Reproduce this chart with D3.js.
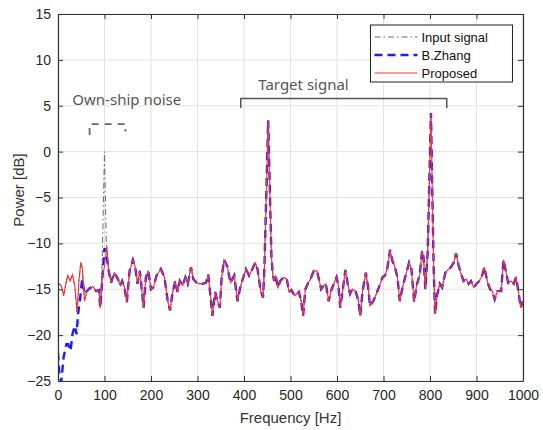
<!DOCTYPE html>
<html>
<head>
<meta charset="utf-8">
<script src="https://cdn.jsdelivr.net/npm/d3@7"></script>
<style>
	body { margin: 0; background: #fff; }
	text { font-family: 'Liberation Sans', Arial, sans-serif; }
	.tick text { fill: #262626; font-size: 14px; }
	.annot { font-family: 'Noto Sans', 'Open Sans', sans-serif; fill: #555; font-size: 15px; }
</style>
</head>
<body>
<svg id="chart0"></svg>
<script>
// frequency samples [Hz]
var freq = [0, 7, 12, 18, 21, 26, 31, 36, 41, 45, 49, 52, 57, 62, 68, 75, 82, 88, 91, 96,
	100, 105, 109, 114, 121, 129, 134, 138, 143, 148, 154, 161, 166, 171, 176, 184, 189, 194,
	200, 205, 212, 221, 229, 236, 241, 246, 252, 257, 262, 268, 274, 279, 286, 291, 298,
	304, 311, 318, 323, 329, 332, 338, 343, 348, 352, 357, 364, 371, 379, 386, 391, 396,
	404, 411, 418, 424, 429, 436, 441, 444, 452, 459, 462, 465, 468, 473, 478, 485, 492, 497,
	502, 509, 518, 523, 527, 532, 538, 543, 550, 557, 562, 566, 571, 576, 582, 587, 594, 599,
	603, 607, 612, 618, 623, 628, 633, 640, 646, 650, 655, 662, 667, 671, 678, 683, 690, 698,
	703, 708, 714, 719, 724, 730, 735, 740, 748, 755, 760, 766, 771, 778, 783, 786, 790, 795,
	802, 808, 811, 815, 821, 826, 833, 840, 845, 851, 856, 861, 866, 872, 878, 883, 888, 894,
	900, 906, 912, 917, 923, 929, 934, 939, 945, 953, 958, 963, 968, 974, 980, 985, 990, 995, 1000];

// proposed method [dB]
var proposed = [-14.3, -14.6, -15.7, -14.1, -13.5, -14.1, -13.4, -14.6, -17.5, -14.1, -12.1, -12.6, -16.3, -15.2, -14.9, -14.7, -15.2, -15.1, -17.0, -13.4,
	-12.5, -10.3, -13.0, -14.3, -13.2, -13.9, -14.6, -14.1, -14.8, -16.4, -13.0, -11.8, -12.6, -14.4, -13.0, -17.0, -13.7, -13.0,
	-15.0, -14.8, -13.5, -12.8, -13.7, -16.3, -17.3, -15.5, -14.1, -15.3, -14.1, -14.6, -13.7, -14.4, -12.6, -13.9, -14.3,
	-14.4, -14.4, -14.3, -13.4, -16.3, -17.9, -15.3, -16.3, -17.0, -13.7, -11.8, -12.5, -14.3, -13.5, -16.3, -15.0, -14.1,
	-12.8, -13.5, -12.8, -12.1, -12.8, -15.2, -15.9, -12.5, 3.4, -11.5, -13.4, -14.1, -13.5, -14.8, -14.1, -13.7, -13.9, -15.3,
	-15.1, -15.7, -15.3, -16.3, -17.9, -15.0, -14.3, -13.9, -13.0, -13.0, -14.1, -15.0, -14.6, -14.4, -16.3, -15.2, -14.3, -13.7,
	-14.6, -17.0, -15.2, -12.9, -14.4, -15.5, -15.0, -15.2, -16.3, -17.9, -15.2, -13.2, -14.8, -16.8, -16.3, -15.7, -14.8, -13.7,
	-13.5, -12.8, -10.7, -11.9, -12.5, -13.7, -16.3, -15.0, -13.4, -12.1, -12.8, -16.4, -14.6, -13.4, -10.8, -11.5, -15.0, -11.0,
	4.2, -13.0, -17.7, -15.7, -14.4, -14.8, -13.2, -12.8, -12.6, -12.1, -11.1, -12.3, -13.2, -14.1, -13.9, -14.4, -14.1, -14.8,
	-14.4, -14.1, -13.5, -12.6, -14.1, -15.0, -15.2, -16.1, -15.2, -15.2, -11.8, -13.0, -14.3, -14.1, -14.4, -13.7, -15.2, -17.0, -16.3];

// B.Zhang below 60 Hz (above that it lies on the proposed curve)
var zhang_freq = [0, 3, 7, 12, 18, 22, 27, 31, 36, 40, 43, 47, 52, 57, 62];
var zhang_low = [-21.9, -24.2, -25.1, -22.4, -21.0, -21.0, -21.7, -19.9, -19.0, -19.9, -17.7, -16.3, -13.9, -15.5, -15.2];
var zhang_peak100 = {100: -10.5, 105: -11.5};

// input signal around the own-ship line (elsewhere it lies on the proposed curve)
var input_freq = [91, 95, 100, 104, 109];
var input_peak = [-17.0, -12.0, 0.0, -10.3, -13.0];

var x_ticks = [0, 100, 200, 300, 400, 500, 600, 700, 800, 900, 1000];
var y_ticks = [-25, -20, -15, -10, -5, 0, 5, 10, 15];

var legend_labels = ['Input signal', 'B.Zhang', 'Proposed'];

function draw_chart() {

	var width = 543;
	var height = 430;
	var margin = {'top': 14, 'bottom': 49, 'left': 58, 'right': 20};
	var w = width - margin.left - margin.right;
	var h = height - margin.top - margin.bottom;

	var x_conv = d3.scaleLinear().domain([0, 1000]).range([0, w]);
	var y_conv = d3.scaleLinear().domain([-25, 15]).range([h, 0]);

	var svg = d3.select('#chart0')
		.attr('width', width)
		.attr('height', height);

	var chart = svg.append('g')
		.attr('transform', 'translate(' + margin.left + ',' + margin.top + ')');

	chart.append('clipPath').attr('id', 'clip')
		.append('rect').attr('width', w).attr('height', h);

	// grid
	chart.selectAll('line.gx')
		.data(x_ticks).enter()
		.append('line')
		.attr('x1', function(d) { return x_conv(d); })
		.attr('x2', function(d) { return x_conv(d); })
		.attr('y1', 0).attr('y2', h)
		.attr('stroke', '#e3e3e3');
	chart.selectAll('line.gy')
		.data(y_ticks).enter()
		.append('line')
		.attr('y1', function(d) { return y_conv(d); })
		.attr('y2', function(d) { return y_conv(d); })
		.attr('x1', 0).attr('x2', w)
		.attr('stroke', '#e3e3e3');

	// series
	var input_data = [];
	var zhang_data = [];
	var prop_data = [];
	for (var i = 0; i < freq.length; i++) {
		var f = freq[i];
		prop_data.push([f, proposed[i]]);
		if (f <= 88) {
			input_data.push([f, proposed[i]]);
		}
		if (f >= 114) {
			input_data.push([f, proposed[i]]);
		}
		if (f > 62) {
			zhang_data.push([f, zhang_peak100[f] !== undefined ? zhang_peak100[f] : proposed[i]]);
		}
		if (f == 91) {
			for (var k = 0; k < input_freq.length; k++) {
				input_data.push([input_freq[k], input_peak[k]]);
			}
		}
	}
	var zl = [];
	for (var j = 0; j < zhang_freq.length; j++) {
		zl.push([zhang_freq[j], zhang_low[j]]);
	}
	zhang_data = zl.concat(zhang_data);

	var line = d3.line()
		.x(function(d) { return x_conv(d[0]); })
		.y(function(d) { return y_conv(d[1]); });

	var plot = chart.append('g').attr('clip-path', 'url(#clip)');

	plot.append('path').datum(input_data)
		.attr('d', line)
		.attr('fill', 'none')
		.attr('stroke', '#6a6a6a')
		.attr('stroke-width', 1)
		.attr('stroke-dasharray', '6,3,1.5,3');

	plot.append('path').datum(zhang_data)
		.attr('d', line)
		.attr('fill', 'none')
		.attr('stroke', '#1a1aff')
		.attr('stroke-width', 2.4)
		.attr('stroke-dasharray', '8,5');

	plot.append('path').datum(prop_data)
		.attr('d', line)
		.attr('fill', 'none')
		.attr('stroke', '#ff3030')
		.attr('stroke-width', 1.1);

	// axes, MATLAB-style box with inner ticks
	var ax_b = chart.append('g')
		.attr('transform', 'translate(0,' + h + ')')
		.call(d3.axisBottom(x_conv).tickValues(x_ticks).tickFormat(d3.format('d'))
			.tickSizeInner(-5).tickSizeOuter(0).tickPadding(9));
	var ax_t = chart.append('g')
		.call(d3.axisTop(x_conv).tickValues(x_ticks).tickSizeInner(-5).tickSizeOuter(0).tickFormat(''));
	var ax_l = chart.append('g')
		.call(d3.axisLeft(y_conv).tickValues(y_ticks).tickSizeInner(-5).tickSizeOuter(0).tickPadding(7));
	var ax_r = chart.append('g')
		.attr('transform', 'translate(' + w + ',0)')
		.call(d3.axisRight(y_conv).tickValues(y_ticks).tickSizeInner(-5).tickSizeOuter(0).tickFormat(''));

	[ax_b, ax_t, ax_l, ax_r].forEach(function(a) {
		a.select('.domain').attr('stroke', '#333').attr('stroke-width', 1.2);
		a.selectAll('.tick line').attr('stroke', '#333');
		a.selectAll('.tick text').style('font-size', '14px').attr('fill', '#262626');
	});

	svg.append('text')
		.attr('x', margin.left + w / 2)
		.attr('y', 423)
		.attr('text-anchor', 'middle')
		.attr('fill', '#333')
		.style('font-size', '15px')
		.text('Frequency [Hz]');

	svg.append('text')
		.attr('transform', 'translate(24,190) rotate(-90)')
		.attr('text-anchor', 'middle')
		.attr('fill', '#333')
		.style('font-size', '15px')
		.text('Power [dB]');

	// annotations
	chart.append('text')
		.attr('class', 'annot')
		.attr('x', x_conv(148))
		.attr('y', y_conv(5.1))
		.attr('text-anchor', 'middle')
		.text('Own-ship noise');

	chart.append('path')
		.attr('d', 'M' + x_conv(68) + ',' + y_conv(1.8) + 'V' + y_conv(3) + 'H' + x_conv(145) + 'V' + y_conv(2.2))
		.attr('fill', 'none')
		.attr('stroke', '#666')
		.attr('stroke-width', 1.8)
		.attr('stroke-dasharray', '7,6');

	chart.append('text')
		.attr('class', 'annot')
		.attr('x', x_conv(528))
		.attr('y', y_conv(6.7))
		.attr('text-anchor', 'middle')
		.text('Target signal');

	chart.append('path')
		.attr('d', 'M' + x_conv(393) + ',' + y_conv(4.75) + 'V' + y_conv(5.8) + 'H' + x_conv(836) + 'V' + y_conv(4.75))
		.attr('fill', 'none')
		.attr('stroke', '#555')
		.attr('stroke-width', 1.5);

	// legend
	var lg = chart.append('g')
		.attr('transform', 'translate(' + x_conv(672) + ',' + y_conv(13.8) + ')');
	lg.append('rect')
		.attr('width', 142).attr('height', 57)
		.attr('fill', '#fff')
		.attr('stroke', '#222')
		.attr('stroke-width', 1);
	var styles = [
		{'c': '#6a6a6a', 'w': 1, 'dash': '6,3,1.5,3'},
		{'c': '#1a1aff', 'w': 2.6, 'dash': '8,5'},
		{'c': '#ff3030', 'w': 1.1, 'dash': null}
	];
	lg.selectAll('line.leg')
		.data(legend_labels).enter()
		.append('line')
		.attr('x1', 4).attr('x2', 47)
		.attr('y1', function(d, i) { return 12 + i * 18; })
		.attr('y2', function(d, i) { return 12 + i * 18; })
		.attr('stroke', function(d, i) { return styles[i].c; })
		.attr('stroke-width', function(d, i) { return styles[i].w; })
		.attr('stroke-dasharray', function(d, i) { return styles[i].dash; });
	lg.selectAll('text.leg')
		.data(legend_labels).enter()
		.append('text')
		.attr('x', 51)
		.attr('y', function(d, i) { return 12 + i * 18; })
		.attr('dy', '0.35em')
		.attr('fill', '#111')
		.style('font-size', '13px')
		.text(function(d) { return d; });
}

draw_chart();
</script>
</body>
</html>
